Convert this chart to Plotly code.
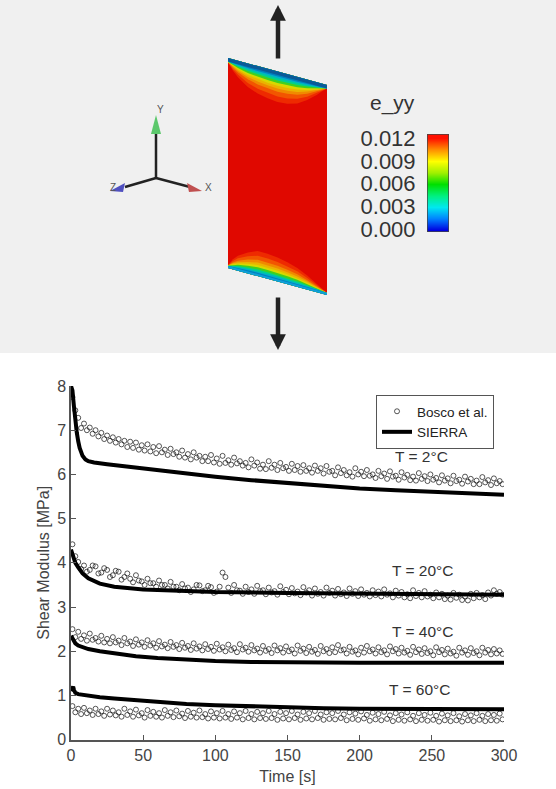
import plotly.graph_objects as go

# ---------- chart data ----------
bosco_time = [1, 3, 5, 7, 9, 11, 13, 15, 17, 19, 21, 23, 25, 27, 29, 31, 33, 35, 37, 39, 41, 43, 45, 47, 49, 51, 53, 55, 57, 59,
              61, 63, 65, 67, 69, 71, 73, 75, 77, 79, 81, 83, 85, 87, 89, 91, 93, 95, 97, 99, 101, 103, 105, 107, 109, 111, 113, 115, 117, 119,
              121, 123, 125, 127, 129, 131, 133, 135, 137, 139, 141, 143, 145, 147, 149, 151, 153, 155, 157, 159, 161, 163, 165, 167, 169, 171, 173, 175, 177, 179,
              181, 183, 185, 187, 189, 191, 193, 195, 197, 199, 201, 203, 205, 207, 209, 211, 213, 215, 217, 219, 221, 223, 225, 227, 229, 231, 233, 235, 237, 239,
              241, 243, 245, 247, 249, 251, 253, 255, 257, 259, 261, 263, 265, 267, 269, 271, 273, 275, 277, 279, 281, 283, 285, 287, 289, 291, 293, 295, 297, 299]
bosco_2 = [7.75, 7.45, 7.28, 7.05, 7.15, 7.0, 7.06, 6.92, 7.0, 6.86, 6.94, 6.8, 6.88, 6.76, 6.84, 6.72, 6.8, 6.68, 6.76, 6.62, 6.74, 6.6, 6.72, 6.56, 6.66, 6.54, 6.68, 6.52, 6.62, 6.48,
           6.64, 6.5, 6.56, 6.44, 6.58, 6.46, 6.5, 6.4, 6.54, 6.38, 6.46, 6.34, 6.5, 6.38, 6.42, 6.3, 6.4, 6.3, 6.44, 6.27, 6.36, 6.24, 6.42, 6.26, 6.32, 6.22, 6.38, 6.25, 6.3, 6.2,
           6.26, 6.16, 6.34, 6.2, 6.27, 6.13, 6.22, 6.12, 6.3, 6.15, 6.22, 6.1, 6.26, 6.14, 6.17, 6.08, 6.24, 6.1, 6.19, 6.06, 6.21, 6.08, 6.14, 6.04, 6.2, 6.08, 6.14, 6.02, 6.19, 6.06,
           6.08, 5.98, 6.16, 6.03, 6.1, 5.98, 6.05, 5.95, 6.14, 6.0, 6.06, 5.96, 6.1, 5.97, 6.0, 5.92, 6.08, 5.96, 6.02, 5.9, 6.07, 5.95, 5.97, 5.88, 6.05, 5.93, 5.99, 5.87, 5.95, 5.86,
           6.03, 5.9, 5.96, 5.85, 6.0, 5.88, 5.92, 5.82, 5.98, 5.86, 5.91, 5.8, 5.97, 5.85, 5.88, 5.79, 5.95, 5.84, 5.9, 5.78, 5.86, 5.78, 5.94, 5.82, 5.87, 5.76, 5.91, 5.8, 5.85, 5.78]
bosco_20 = [4.42, 4.15, 4.02, 3.86, 3.94, 3.8, 3.84, 3.94, 3.92, 3.76, 3.78, 3.88, 3.84, 3.68, 3.72, 3.82, 3.8, 3.62, 3.68, 3.76, 3.64, 3.56, 3.72, 3.6, 3.58, 3.5, 3.64, 3.54, 3.54, 3.46,
            3.6, 3.5, 3.5, 3.42, 3.57, 3.46, 3.46, 3.38, 3.52, 3.42, 3.44, 3.34, 3.4, 3.5, 3.49, 3.36, 3.38, 3.48, 3.45, 3.32, 3.35, 3.46, 3.78, 3.68, 3.44, 3.32, 3.5, 3.38, 3.37, 3.3,
            3.46, 3.34, 3.4, 3.3, 3.48, 3.36, 3.38, 3.29, 3.44, 3.33, 3.36, 3.28, 3.47, 3.34, 3.39, 3.29, 3.43, 3.31, 3.35, 3.27, 3.45, 3.33, 3.38, 3.26, 3.42, 3.3, 3.34, 3.26, 3.44, 3.32,
            3.37, 3.26, 3.41, 3.29, 3.33, 3.25, 3.42, 3.3, 3.36, 3.25, 3.4, 3.28, 3.32, 3.24, 3.38, 3.27, 3.35, 3.24, 3.4, 3.28, 3.31, 3.22, 3.37, 3.26, 3.34, 3.22, 3.29, 3.2, 3.38, 3.25,
            3.32, 3.22, 3.36, 3.24, 3.28, 3.2, 3.33, 3.22, 3.3, 3.18, 3.26, 3.17, 3.32, 3.21, 3.28, 3.16, 3.24, 3.15, 3.3, 3.2, 3.32, 3.22, 3.27, 3.18, 3.33, 3.26, 3.38, 3.3, 3.34, 3.28]
bosco_40 = [2.5, 2.32, 2.44, 2.28, 2.36, 2.24, 2.4, 2.26, 2.3, 2.22, 2.35, 2.2, 2.28, 2.18, 2.32, 2.2, 2.24, 2.14, 2.3, 2.18, 2.22, 2.12, 2.27, 2.15, 2.2, 2.1, 2.25, 2.13, 2.18, 2.08,
            2.23, 2.11, 2.15, 2.07, 2.21, 2.1, 2.14, 2.05, 2.19, 2.08, 2.12, 2.03, 2.18, 2.06, 2.11, 2.02, 2.16, 2.05, 2.1, 2.01, 2.17, 2.04, 2.09, 2.0, 2.15, 2.03, 2.07, 1.98, 2.16, 2.04,
            2.08, 1.99, 2.14, 2.02, 2.06, 1.97, 2.12, 2.01, 2.05, 1.96, 2.13, 2.02, 2.07, 1.97, 2.11, 2.0, 2.04, 1.95, 2.13, 2.01, 2.06, 1.96, 2.1, 1.99, 2.03, 1.94, 2.12, 2.0, 2.05, 1.96,
            2.09, 1.98, 2.14, 2.02, 2.04, 1.95, 2.1, 1.99, 2.02, 1.93, 2.08, 1.97, 2.12, 2.0, 2.04, 1.95, 2.09, 1.98, 2.02, 1.93, 2.11, 2.0, 2.05, 1.95, 2.08, 1.97, 2.01, 1.92, 2.1, 1.98,
            2.04, 1.94, 2.07, 1.96, 2.0, 1.91, 2.09, 1.98, 2.03, 1.93, 2.06, 1.95, 1.99, 1.9, 2.08, 1.97, 2.02, 1.92, 2.07, 1.96, 2.0, 1.91, 2.08, 1.97, 2.03, 1.93, 2.05, 1.95, 2.02, 1.94]
bosco_60 = [0.76, 0.62, 0.7, 0.58, 0.72, 0.6, 0.66, 0.56, 0.7, 0.58, 0.64, 0.54, 0.7, 0.57, 0.66, 0.55, 0.62, 0.52, 0.7, 0.56, 0.64, 0.52, 0.68, 0.55, 0.6, 0.5, 0.67, 0.54, 0.63, 0.52,
            0.6, 0.5, 0.67, 0.54, 0.62, 0.51, 0.66, 0.53, 0.59, 0.49, 0.65, 0.52, 0.61, 0.5, 0.66, 0.51, 0.58, 0.48, 0.64, 0.5, 0.6, 0.48, 0.65, 0.5, 0.58, 0.47, 0.64, 0.5, 0.6, 0.46,
            0.65, 0.49, 0.58, 0.46, 0.63, 0.49, 0.6, 0.47, 0.65, 0.49, 0.58, 0.45, 0.63, 0.48, 0.6, 0.46, 0.65, 0.49, 0.57, 0.45, 0.63, 0.48, 0.6, 0.46, 0.65, 0.49, 0.57, 0.45, 0.62, 0.47,
            0.6, 0.46, 0.65, 0.49, 0.57, 0.44, 0.62, 0.47, 0.59, 0.45, 0.64, 0.48, 0.56, 0.43, 0.61, 0.46, 0.58, 0.44, 0.63, 0.47, 0.55, 0.42, 0.6, 0.45, 0.57, 0.43, 0.62, 0.46, 0.54, 0.42,
            0.6, 0.45, 0.56, 0.43, 0.61, 0.45, 0.54, 0.41, 0.59, 0.44, 0.55, 0.42, 0.6, 0.44, 0.53, 0.41, 0.58, 0.44, 0.55, 0.42, 0.6, 0.45, 0.54, 0.42, 0.58, 0.44, 0.56, 0.43, 0.59, 0.46]

sierra_time_2 = [0, 1, 2, 3, 4, 5, 6, 8, 10, 12, 16, 25, 50, 75, 100, 125, 150, 175, 200, 225, 250, 275, 300]
sierra_2 = [8.0, 7.9, 7.55, 7.2, 6.95, 6.75, 6.6, 6.42, 6.34, 6.3, 6.27, 6.23, 6.13, 6.03, 5.95, 5.87, 5.8, 5.74, 5.68, 5.64, 5.6, 5.57, 5.54]
sierra_time_20 = [0, 1, 2, 3, 5, 8, 12, 16, 20, 30, 40, 50, 75, 100, 150, 200, 250, 300]
sierra_20 = [4.3, 4.2, 4.08, 4.0, 3.9, 3.76, 3.65, 3.58, 3.53, 3.46, 3.42, 3.4, 3.37, 3.34, 3.32, 3.3, 3.29, 3.28]
sierra_time_40 = [0, 1, 2, 3, 5, 8, 12, 20, 30, 45, 60, 80, 100, 125, 150, 200, 250, 300]
sierra_40 = [2.35, 2.28, 2.22, 2.18, 2.13, 2.09, 2.05, 2.0, 1.95, 1.89, 1.85, 1.81, 1.78, 1.76, 1.75, 1.74, 1.74, 1.74]
sierra_time_60 = [0, 1, 1.5, 2, 3, 5, 10, 20, 30, 45, 60, 80, 100, 125, 150, 175, 200, 250, 300]
sierra_60 = [1.1, 1.18, 1.2, 1.13, 1.06, 1.03, 1.0, 0.96, 0.93, 0.89, 0.85, 0.81, 0.78, 0.75, 0.73, 0.71, 0.7, 0.69, 0.69]

temperature_labels = ["T = 2°C", "T = 20°C", "T = 40°C", "T = 60°C"]
temperature_label_time = [243, 244, 244, 242]
temperature_label_modulus = [6.4, 3.83, 2.44, 1.13]
legend_names = ["Bosco et al.", "SIERRA"]
x_ticks = [0, 50, 100, 150, 200, 250, 300]
y_ticks = [0, 1, 2, 3, 4, 5, 6, 7, 8]

# ---------- illustration data (image-pixel coordinates of the upper panel) ----------
band_colors = ["#ee2a00", "#f25500", "#f08a00", "#eab400", "#d8d800", "#40d020", "#00d090", "#00b0c8", "#0080c0", "#0a5a98"]
band_share = [1.0, 0.8, 0.62, 0.5, 0.4, 0.3, 0.2, 0.12, 0.06, 0.0]
edge_position = [0, 0.05, 0.1, 0.2, 0.3, 0.4, 0.5, 0.6, 0.7, 0.8, 0.9, 0.95, 1]
top_arch = [1, 8, 13, 20, 24, 26, 27, 26, 23, 17, 9, 4, 0]
bottom_arch = [1, 8, 13, 19, 23, 23, 22, 20, 17, 12, 6, 3, 0]
sheet_left, sheet_right = 228, 327
sheet_top_y = [58, 85]
sheet_bottom_y = [268, 295]
colorbar_levels = [0, 0.012]
colorbar_ticks = [0.0, 0.003, 0.006, 0.009, 0.012]
colorbar_labels = ["0.000", "0.003", "0.006", "0.009", "0.012"]
rainbow = [[0, "#0000e0"], [0.125, "#0080ff"], [0.25, "#00e8f0"], [0.375, "#00f080"], [0.5, "#00e000"],
           [0.625, "#a0f000"], [0.75, "#ffff00"], [0.875, "#ff9000"], [1, "#ff1000"]]

W, H = 556, 789
panel_h = 353
fig = go.Figure()

# ---------- upper panel ----------
PX, PY = "x2", "y2"
def poly(xs, ys, color):
    fig.add_trace(go.Scatter(x=xs, y=ys, xaxis=PX, yaxis=PY, mode="lines", fill="toself", fillcolor=color,
                             line=dict(width=0, color=color), showlegend=False, hoverinfo="skip"))

poly([sheet_left, sheet_right, sheet_right, sheet_left],
     [sheet_top_y[0], sheet_top_y[1], sheet_bottom_y[1], sheet_bottom_y[0]], "#e00800")

span = sheet_right - sheet_left
xs_edge = [sheet_left + p * span for p in edge_position]
top_edge = [sheet_top_y[0] + p * (sheet_top_y[1] - sheet_top_y[0]) for p in edge_position]
bot_edge = [sheet_bottom_y[0] + p * (sheet_bottom_y[1] - sheet_bottom_y[0]) for p in edge_position]
for share, color in zip(band_share, band_colors):
    yt = [e + 3.5 + share * a for e, a in zip(top_edge, top_arch)]
    poly(xs_edge + xs_edge[::-1], yt + top_edge[::-1], color)
    yb = [e - 2 - share * a for e, a in zip(bot_edge, bottom_arch)]
    poly(xs_edge + xs_edge[::-1], yb + bot_edge[::-1], "#10a0d8" if color == "#0a5a98" else color)

# triad
for (x1, y1) in [(156, 125), (125, 187), (190, 187)]:
    fig.add_trace(go.Scatter(x=[156, x1], y=[178, y1], xaxis=PX, yaxis=PY, mode="lines",
                             line=dict(color="#222222", width=2.5), showlegend=False, hoverinfo="skip"))
poly([156, 151, 161], [115, 134, 134], "#5cc86c")
poly([110, 125, 123], [191, 183, 192], "#5050c0")
poly([202, 187, 189], [191, 183, 192], "#c05050")

# colour bar, on its own axes
fig.add_trace(go.Heatmap(x=[0, 1], y=colorbar_levels, z=[[v, v] for v in colorbar_levels], zmin=0, zmax=0.012, zsmooth="best",
                         colorscale=rainbow, showscale=False, xaxis="x3", yaxis="y3", hoverinfo="skip"))

# ---------- lower chart ----------
for i, series in enumerate([bosco_2, bosco_20, bosco_40, bosco_60]):
    fig.add_trace(go.Scatter(x=bosco_time, y=series, mode="markers", name=legend_names[0], showlegend=i == 0,
                             marker=dict(symbol="circle-open", size=5, color="#101010", line=dict(width=0.7, color="#101010"))))
for i, (t, series) in enumerate([(sierra_time_2, sierra_2), (sierra_time_20, sierra_20),
                                 (sierra_time_40, sierra_40), (sierra_time_60, sierra_60)]):
    fig.add_trace(go.Scatter(x=t, y=series, mode="lines", name=legend_names[1], showlegend=i == 0,
                             line=dict(color="black", width=4)))

annotations = []
for text, t, m in zip(temperature_labels, temperature_label_time, temperature_label_modulus):
    annotations.append(dict(x=t, y=m, text=text, showarrow=False, xref="x", yref="y",
                            font=dict(family="Liberation Sans", size=15.5, color="#333333")))
annotations.append(dict(x=392, y=103, xref=PX, yref=PY, text="e_yy", showarrow=False,
                        font=dict(family="Liberation Sans", size=21, color="#333333")))
for text, x, y in [("Y", 160, 109), ("Z", 113, 187), ("X", 208, 187)]:
    annotations.append(dict(x=x, y=y, xref=PX, yref=PY, text=text, showarrow=False,
                            font=dict(family="Liberation Sans", size=10, color="#555555")))
# load arrows
for y_tail, y_head in [(60, 5), (296, 350)]:
    annotations.append(dict(x=278, y=y_head, ax=278, ay=y_tail, xref=PX, yref=PY, axref=PX, ayref=PY, text="",
                            showarrow=True, arrowhead=2, arrowsize=0.7, arrowwidth=4.5, arrowcolor="#222222"))

font = dict(family="Liberation Sans", size=16, color="#444444")
fig.update_layout(
    width=W, height=H, margin=dict(l=0, r=0, t=0, b=0), autosize=False,
    paper_bgcolor="white", plot_bgcolor="rgba(0,0,0,0)",
    font=font,
    xaxis=dict(domain=[71 / W, 504 / W], range=[0, 300], tickvals=x_ticks, ticks="inside", ticklen=5, tickcolor="#555555",
               showline=True, linecolor="#555555", linewidth=1.5, showgrid=False, zeroline=False, tickfont=font, automargin=False,
               title=dict(text="Time [s]", font=font, standoff=8)),
    yaxis=dict(domain=[(H - 739.7) / H, (H - 386) / H], range=[0, 8], tickvals=y_ticks, ticks="inside", ticklen=5, tickcolor="#555555",
               showline=True, linecolor="#555555", linewidth=1.5, showgrid=False, zeroline=False, tickfont=font, automargin=False,
               title=dict(text="Shear Modulus [MPa]", font=font, standoff=4)),
    xaxis2=dict(domain=[0, 1], range=[0, W], visible=False, anchor="y2", automargin=False),
    yaxis2=dict(domain=[(H - panel_h) / H, 1], range=[panel_h, 0], visible=False, anchor="x2", automargin=False),
    xaxis3=dict(domain=[427 / W, 449 / W], range=[0, 1], visible=False, anchor="y3", automargin=False),
    yaxis3=dict(domain=[(H - 232) / H, (H - 134) / H], range=[-0.0003, 0.0125], anchor="x3", automargin=False,
                tickvals=colorbar_ticks, ticktext=colorbar_labels, ticks="outside", ticklen=6, tickcolor="rgba(0,0,0,0)", showgrid=False, zeroline=False,
                showline=False, tickfont=dict(family="Liberation Sans", size=22, color="#333333")),
    legend=dict(x=376 / W, y=1 - 395 / H, xanchor="left", yanchor="top", bgcolor="white", bordercolor="#555555", borderwidth=1,
                font=dict(family="Liberation Sans", size=13.5, color="#222222"), itemwidth=30, tracegroupgap=0),
    annotations=annotations,
    shapes=[
        dict(type="rect", xref="paper", yref="paper", x0=0, x1=1, y0=(H - panel_h) / H, y1=1,
             fillcolor="#f0f0f0", line=dict(width=0), layer="below"),
        dict(type="rect", xref="x3", yref="y3", x0=0, x1=1, y0=-0.0003, y1=0.0125,
             line=dict(color="#444444", width=1.5), fillcolor="rgba(0,0,0,0)"),
    ],
)
fig.write_html("out.html", config={"displayModeBar": False},
               post_script="document.body.style.margin='0';document.documentElement.style.overflow='hidden';")
